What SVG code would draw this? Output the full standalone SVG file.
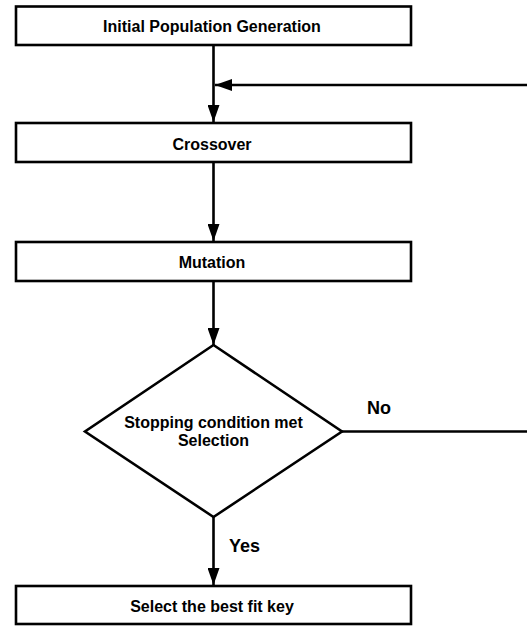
<svg xmlns="http://www.w3.org/2000/svg" width="527" height="628" viewBox="0 0 527 628">
  <style>
    .box { fill: #ffffff; stroke: #000000; stroke-width: 2.6; }
    .txt { font-family: "Liberation Sans", Arial, sans-serif; font-weight: bold; font-size: 16px; fill: #000000; text-anchor: middle; }
    .lbl { font-family: "Liberation Sans", Arial, sans-serif; font-weight: bold; font-size: 18px; fill: #000000; }
    .wire { fill: none; stroke: #000000; stroke-width: 2.6; }
  </style>
  <defs>
    <marker id="arrow" viewBox="0 0 17 12" refX="17" refY="6" markerWidth="17" markerHeight="12" markerUnits="userSpaceOnUse" orient="auto">
      <path d="M0,0 L17,6 L0,12 Z" fill="#000000"/>
    </marker>
  </defs>

  <g id="connectors">
    <line class="wire" x1="213.5" y1="45" x2="213.5" y2="122" marker-end="url(#arrow)"/>
    <line class="wire" x1="527" y1="85" x2="215" y2="85" marker-end="url(#arrow)"/>
    <line class="wire" x1="213.5" y1="162" x2="213.5" y2="241" marker-end="url(#arrow)"/>
    <line class="wire" x1="213.5" y1="281" x2="213.5" y2="345" marker-end="url(#arrow)"/>
    <line class="wire" x1="342" y1="431.5" x2="527" y2="431.5"/>
    <line class="wire" x1="213.5" y1="517" x2="213.5" y2="585" marker-end="url(#arrow)"/>
    <text class="lbl" x="367" y="414">No</text>
    <text class="lbl" x="229" y="552">Yes</text>
  </g>

  <g id="init">
    <rect class="box" x="16" y="6.5" width="395" height="38.5"/>
    <text class="txt" x="212" y="32">Initial Population Generation</text>
  </g>

  <g id="crossover">
    <rect class="box" x="16" y="123" width="395" height="39"/>
    <text class="txt" x="212" y="149.5">Crossover</text>
  </g>

  <g id="mutation">
    <rect class="box" x="16" y="242" width="395" height="39"/>
    <text class="txt" x="212" y="267.5">Mutation</text>
  </g>

  <g id="stop-check">
    <polygon class="box" points="213.5,345 342,431.5 213.5,517 85,431.5"/>
    <text class="txt" x="213.5" y="428">Stopping condition met</text>
    <text class="txt" x="213.5" y="446">Selection</text>
  </g>

  <g id="best-key">
    <rect class="box" x="16" y="586" width="395" height="38"/>
    <text class="txt" x="212" y="611.5">Select the best fit key</text>
  </g>
</svg>
